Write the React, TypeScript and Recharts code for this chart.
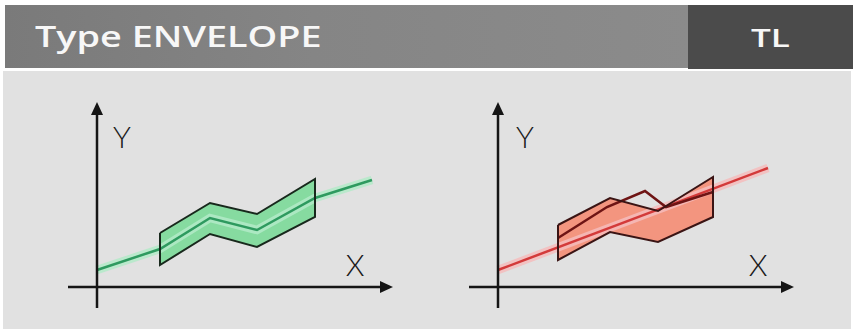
import { ComposedChart, Area, Line, XAxis, YAxis, ReferenceLine, ReferenceDot } from 'recharts';

// Units: 10 px per unit, origin where the two axes cross.
const X_DOMAIN = [-3.7, 30.8];
const Y_DOMAIN = [-2.8, 19.2];

// Axis extents (shared by both panels)
const xAxisFrom = -2.9;
const xAxisTo = 29.6;
const yAxisFrom = -2.1;
const yAxisTo = 18.5;

// Envelope in tolerance (green)
const okX = [6.3, 11.3, 16.0, 21.8];
const okUpper = [5.4, 8.4, 7.3, 10.8];
const okLower = [2.2, 5.3, 4.0, 7.0];
const okCurveX = [0, 6.3, 11.3, 16.0, 21.8, 27.5];
const okCurveY = [1.7, 3.8, 6.9, 5.7, 8.9, 10.7];

// Envelope violated (red)
const nokX = [6.0, 11.2, 16.0, 21.5];
const nokUpper = [6.2, 8.9, 7.6, 11.0];
const nokLower = [2.7, 5.5, 4.5, 7.0];
const nokTrendX = [0, 27.0];
const nokTrendY = [1.7, 11.9];
const nokCurveX = [6.0, 10.9, 14.7, 16.8, 21.5];
const nokCurveY = [4.9, 8.0, 9.6, 8.0, 9.5];

const toPoints = (xs: number[], ys: number[]) => xs.map((x, i) => ({ x, y: ys[i] }));
const toBand = (xs: number[], lo: number[], up: number[]) => xs.map((x, i) => ({ x, band: [lo[i], up[i]] }));
const toOutline = (xs: number[], up: number[], lo: number[]) => [
  ...toPoints(xs, up),
  ...toPoints(xs, lo).reverse(),
  { x: xs[0], y: up[0] },
];

const ArrowShape = (p: any) => {
  const { x1, y1, x2, y2 } = p;
  const dx = x2 - x1;
  const dy = y2 - y1;
  const len = Math.hypot(dx, dy) || 1;
  const ux = dx / len;
  const uy = dy / len;
  const head = 13;
  const half = 6;
  const bx = x2 - ux * head;
  const by = y2 - uy * head;
  return (
    <g>
      <line x1={x1} y1={y1} x2={bx + ux * 2} y2={by + uy * 2} stroke="#151515" strokeWidth={2.5} />
      <polygon
        points={`${x2},${y2} ${bx - uy * half},${by + ux * half} ${bx + uy * half},${by - ux * half}`}
        fill="#151515"
      />
    </g>
  );
};

const letter = (value: string) => ({
  value,
  position: 'center' as const,
  fontSize: 30,
  fontFamily: 'Lato, sans-serif',
  fontWeight: 300,
  fill: '#1a1a1a',
});

interface PanelProps {
  left: number;
  xs: number[];
  upper: number[];
  lower: number[];
  fill: string;
  edge: string;
  children?: React.ReactNode;
  yLabel: { x: number; y: number };
  xLabel: { x: number; y: number };
}

const Panel = ({ left, xs, upper, lower, fill, edge, children, yLabel, xLabel }: PanelProps) => (
  <div style={{ position: 'absolute', left, top: 95 }}>
    <ComposedChart width={345} height={220} margin={{ top: 0, right: 0, bottom: 0, left: 0 }}>
      <XAxis type="number" dataKey="x" domain={X_DOMAIN} allowDataOverflow hide />
      <YAxis type="number" domain={Y_DOMAIN} allowDataOverflow hide />
      <Area
        data={toBand(xs, lower, upper)}
        dataKey="band"
        type="linear"
        stroke="none"
        fill={fill}
        fillOpacity={1}
        isAnimationActive={false}
      />
      {children}
      <Line
        data={toOutline(xs, upper, lower)}
        dataKey="y"
        type="linear"
        stroke={edge}
        strokeWidth={2}
        strokeLinejoin="miter"
        dot={false}
        activeDot={false}
        isAnimationActive={false}
      />
      <ReferenceLine
        segment={[{ x: xAxisFrom, y: 0 }, { x: xAxisTo, y: 0 }]}
        shape={ArrowShape}
      />
      <ReferenceLine
        segment={[{ x: 0, y: yAxisFrom }, { x: 0, y: yAxisTo }]}
        shape={ArrowShape}
      />
      <ReferenceDot x={yLabel.x} y={yLabel.y} r={0} stroke="none" fill="none" label={letter('Y')} />
      <ReferenceDot x={xLabel.x} y={xLabel.y} r={0} stroke="none" fill="none" label={letter('X')} />
    </ComposedChart>
  </div>
);

const glowLine = (key: string, data: any[], halo: string, core: string, width: number) => [
  <Line
    key={key + '-halo'}
    data={data}
    dataKey="y"
    type="linear"
    stroke={halo}
    strokeWidth={width + 6}
    strokeOpacity={0.85}
    dot={false}
    activeDot={false}
    isAnimationActive={false}
  />,
  <Line
    key={key + '-core'}
    data={data}
    dataKey="y"
    type="linear"
    stroke={core}
    strokeWidth={width}
    dot={false}
    activeDot={false}
    isAnimationActive={false}
  />,
];

// header labels are set in a wide face, so stretch them a bit
const wide = { display: 'inline-block', transform: 'scaleX(1.35)', transformOrigin: 'left center' } as const;

export default function App() {
  return (
    <div style={{ position: 'absolute', left: 0, top: 0, width: 856, height: 332, background: '#fff', overflow: 'hidden' }}>
      <div
        style={{
          position: 'absolute',
          left: 5,
          top: 5,
          width: 683,
          height: 63,
          background: 'linear-gradient(to right, #7a7a7a 0%, #858585 45%, #8b8b8b 100%)',
          color: '#f7f7f7',
          fontFamily: '"Open Sans", sans-serif',
          fontWeight: 600,
          fontSize: 28,
          lineHeight: '63px',
          paddingLeft: 30,
          boxSizing: 'border-box',
        }}
      >
        <span style={wide}>Type ENVELOPE</span>
      </div>
      <div
        style={{
          position: 'absolute',
          left: 688,
          top: 5,
          width: 165,
          height: 64,
          background: '#4b4b4b',
          color: '#f7f7f7',
          fontFamily: '"Open Sans", sans-serif',
          fontWeight: 600,
          fontSize: 26,
          lineHeight: '64px',
        }}
      >
        <span style={{ ...wide, position: 'absolute', left: 63 }}>TL</span>
      </div>
      <div style={{ position: 'absolute', left: 3, top: 71, width: 848, height: 258, background: '#e1e1e1' }} />

      <Panel
        left={60}
        xs={okX}
        upper={okUpper}
        lower={okLower}
        fill="#86dba0"
        edge="#18281c"
        yLabel={{ x: 2.5, y: 15.0 }}
        xLabel={{ x: 25.8, y: 2.2 }}
      >
        {glowLine('ok', toPoints(okCurveX, okCurveY), '#b3eac8', '#2e9a5f', 2.5)}
      </Panel>

      <Panel
        left={461}
        xs={nokX}
        upper={nokUpper}
        lower={nokLower}
        fill="#f3957f"
        edge="#3a1414"
        yLabel={{ x: 2.7, y: 15.0 }}
        xLabel={{ x: 26.0, y: 2.2 }}
      >
        {glowLine('trend', toPoints(nokTrendX, nokTrendY), '#f5bcbc', '#d33a3a', 2.5)}
        <Line
          data={toPoints(nokCurveX, nokCurveY)}
          dataKey="y"
          type="linear"
          stroke="#6e1414"
          strokeWidth={2.5}
          dot={false}
          activeDot={false}
          isAnimationActive={false}
        />
      </Panel>
    </div>
  );
}
